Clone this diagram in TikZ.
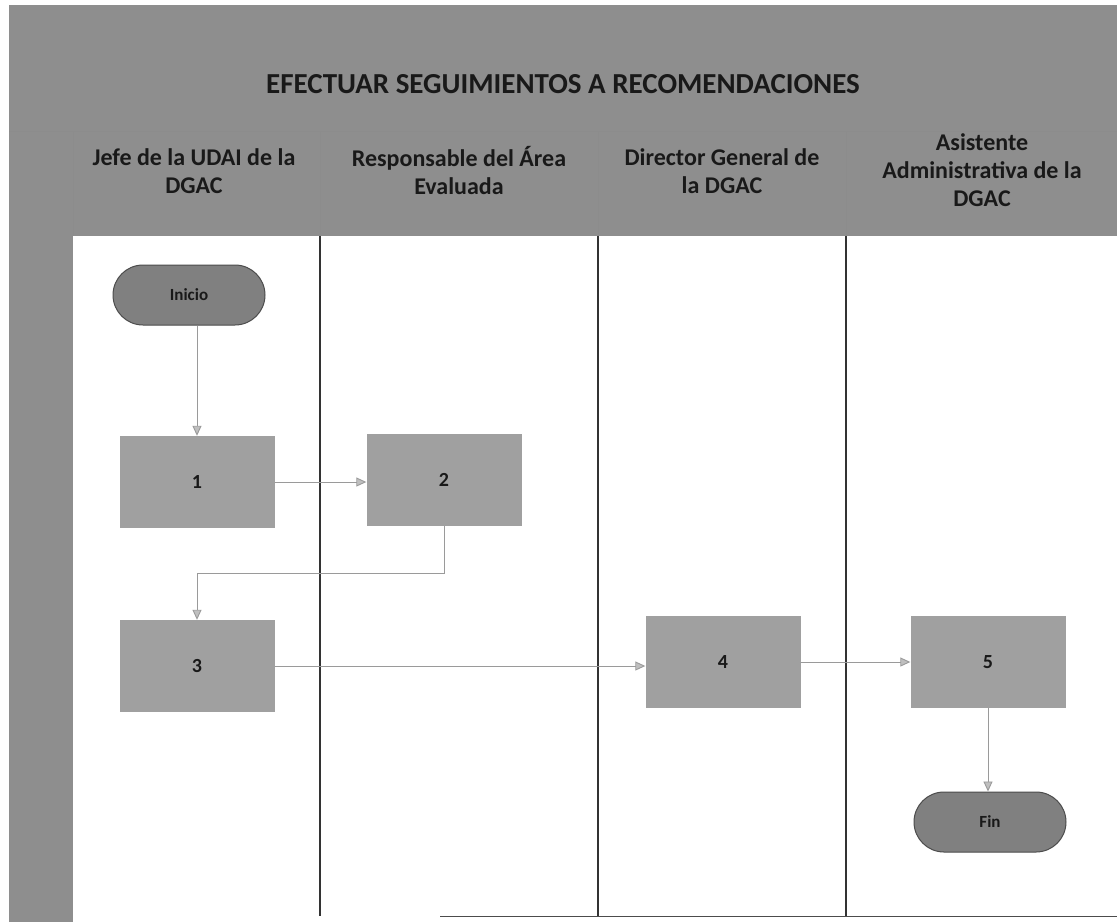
\documentclass[tikz,border=0pt]{standalone}
\usepackage{fontspec}
\setmainfont{Carlito}
\usetikzlibrary{arrows.meta}
\definecolor{hdr}{HTML}{8E8E8E}
\definecolor{boxg}{HTML}{A0A0A0}
\definecolor{pillg}{HTML}{808080}
\definecolor{lineg}{HTML}{9A9A9A}
\tikzset{
  stepbox/.style={draw=none, fill=boxg, minimum width=155pt, minimum height=92pt, font=\bfseries\fontsize{20}{22}\selectfont, text=black!90},
  pill/.style={draw=black!70, line width=1pt, fill=pillg, rounded corners=30pt, minimum width=152pt, minimum height=60pt, font=\bfseries\fontsize{17}{20}\selectfont, text=black!90},
  flow/.style={draw=lineg, line width=0.9pt, -{Triangle[length=10pt,width=9pt,fill=black!25,color=lineg]}},
  lane/.style={draw=black!80, line width=1.2pt},
  hlabel/.style={align=center, font=\bfseries\fontsize{24}{28}\selectfont, text=black!90}
}
\begin{document}
\begin{tikzpicture}[x=1pt,y=-1pt]
\useasboundingbox (0,0) rectangle (1117,922);
\fill[white] (0,0) rectangle (1117,922);
% gray frame
\fill[hdr] (9,5) rectangle (1117,236);
\fill[hdr] (9,5) rectangle (73,922);
\draw[black!45, line width=0.8pt] (9,131) -- (1117,131);
\draw[black!45, line width=0.8pt] (73,131) -- (73,236);
\foreach \xx in {320,598,846} \draw[black!45, line width=0.8pt] (\xx,131) -- (\xx,236);
% title
\node[font=\bfseries\fontsize{29}{34}\selectfont, text=black!90] (title) at (563,84) {EFECTUAR SEGUIMIENTOS A RECOMENDACIONES};
% headers
\node[hlabel] (h1) at (194,171) {Jefe de la UDAI de la\\DGAC};
\node[hlabel] (h2) at (459,171) {Responsable del Área\\Evaluada};
\node[hlabel] (h3) at (722,171) {Director General de\\la DGAC};
\node[hlabel] (h4) at (982,170) {Asistente\\Administrativa de la\\DGAC};
% lanes
\foreach \xx in {320,598,846} \draw[lane] (\xx,236) -- (\xx,916);
\draw[black!70, line width=1pt] (440,916) -- (1117,916);
% nodes
\node[pill] (ini) at (189,295) {Inicio};
\node[stepbox] (s1) at (197,482) {1};
\node[stepbox] (s2) at (444,480) {2};
\node[stepbox] (s3) at (197,666) {3};
\node[stepbox] (s4) at (723,662) {4};
\node[stepbox] (s5) at (988,662) {5};
\node[pill] (fin) at (990,822) {Fin};
% connectors
\draw[flow] (ini.south -| s1.north) -- (s1.north);
\draw[flow] (s1.east) -- (s2.west |- s1.east);
\draw[flow] (s2.south) -- (444,573) -- (197,573) -- (s3.north);
\draw[flow] (s3.east) -- (s4.west |- s3.east);
\draw[flow] (s4.east) -- (s5.west);
\draw[flow] (s5.south) -- (fin.north -| s5.south);
\end{tikzpicture}
\end{document}
